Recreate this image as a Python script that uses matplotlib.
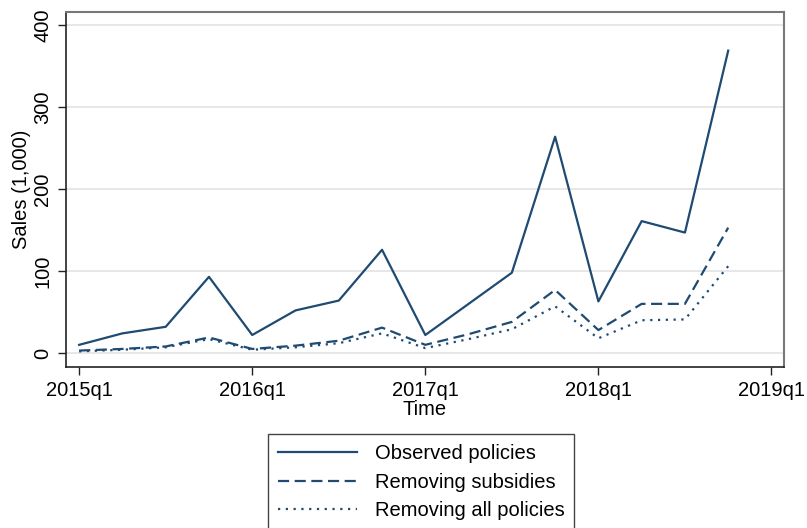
import matplotlib
matplotlib.use("Agg")
import matplotlib.pyplot as plt

plt.rcParams['font.family'] = ['Liberation Sans', 'DejaVu Sans']

# quarterly sales, 2015q1 .. 2018q4 (thousands)
quarters = list(range(16))
observed = [10, 24, 32, 93, 22, 52, 64, 126, 22, 60, 98, 264, 63, 161, 147, 369]
no_subsidies = [3, 5, 8, 19, 5, 9, 15, 31, 10, 23, 38, 77, 28, 60, 60, 153]
no_policies = [2, 4, 7, 17, 4, 7, 12, 24, 6, 17, 29, 57, 18, 40, 41, 106]

tick_pos = [0, 4, 8, 12, 16]
tick_labels = ['2015q1', '2016q1', '2017q1', '2018q1', '2019q1']
y_ticks = [0, 100, 200, 300, 400]

navy = '#1f4a72'

fig = plt.figure(figsize=(8.07, 5.28), dpi=100)
ax = fig.add_axes([0.082, 0.305, 0.889, 0.672])

ax.plot(quarters, observed, color=navy, lw=1.6, ls='-', label='Observed policies')
ax.plot(quarters, no_subsidies, color=navy, lw=1.6, ls=(0, (5, 2.5)), label='Removing subsidies')
ax.plot(quarters, no_policies, color=navy, lw=1.6, ls=(0, (1, 2.5)), label='Removing all policies')

ax.set_xlim(-0.3, 16.28)
ax.set_ylim(-17, 416)
ax.set_xticks(tick_pos)
ax.set_xticklabels(tick_labels)
ax.set_yticks(y_ticks)
ax.set_yticklabels([str(v) for v in y_ticks], rotation=90, va='center')
ax.tick_params(labelsize=14.5, length=6, width=1, color='#222222', pad=4)

ax.yaxis.grid(True, color='#e3e3e3', lw=1.2)
ax.set_axisbelow(True)

for side in ['left', 'bottom']:
    ax.spines[side].set_color('#222222')
    ax.spines[side].set_linewidth(1.2)
for side in ['top', 'right']:
    ax.spines[side].set_color('#777777')
    ax.spines[side].set_linewidth(1.5)

ax.set_ylabel('Sales (1,000)', fontsize=14.5, labelpad=2)
ax.set_xlabel('Time', fontsize=14.5, labelpad=0)

leg = fig.legend(loc='upper left', bbox_to_anchor=(0.332, 0.178), borderaxespad=0,
                 fontsize=14.5, handlelength=3.9, handletextpad=0.9, labelspacing=0.48,
                 borderpad=0.5, fancybox=False, framealpha=1)
leg.get_frame().set_edgecolor('#444444')
leg.get_frame().set_linewidth(1.0)

fig.savefig('out.png', dpi=100)
